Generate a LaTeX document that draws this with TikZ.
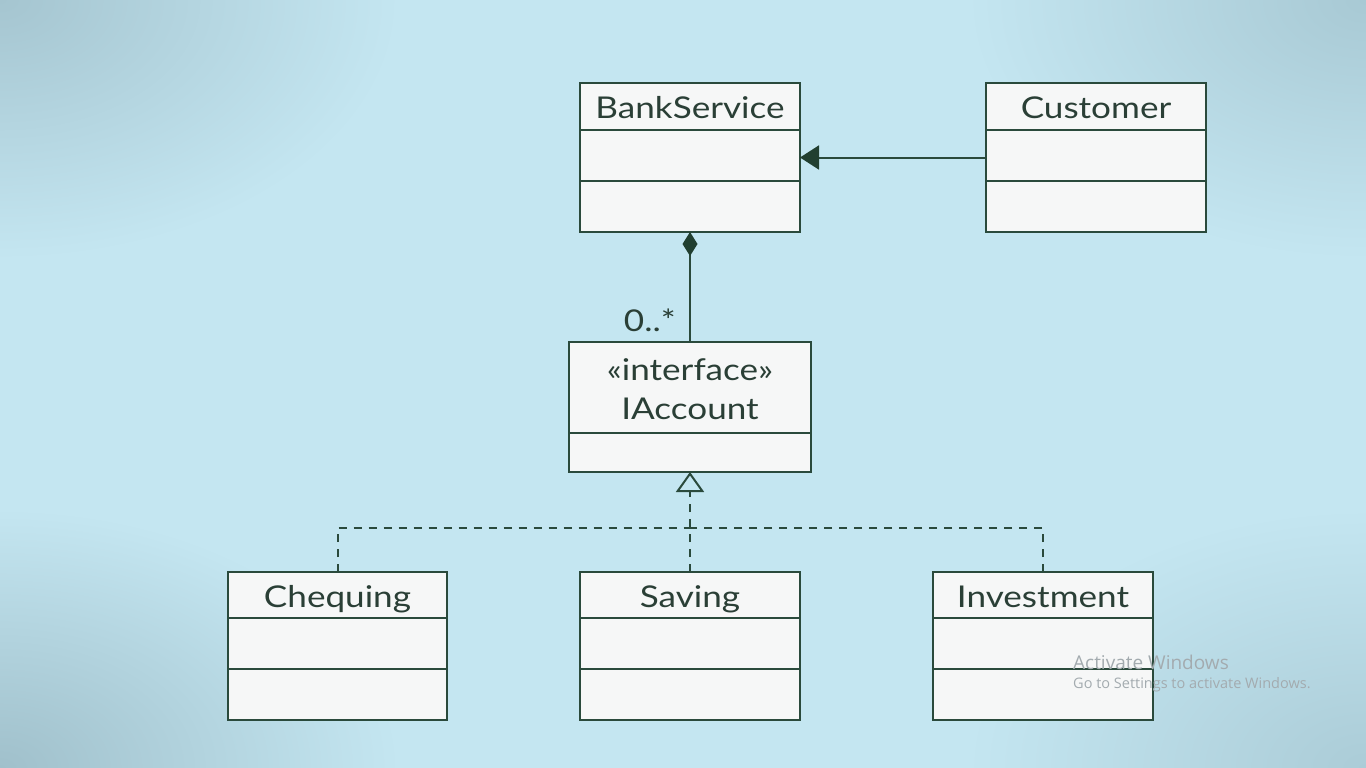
\documentclass[tikz,border=0pt]{standalone}
\usepackage{fontspec}
\setmainfont{Lato}[FakeStretch=1.17]
\newfontfamily\wmfont{Open Sans}
\usetikzlibrary{arrows.meta}
\definecolor{bgin}{HTML}{C4E6F1}
\definecolor{cTL}{HTML}{A5C5D0}
\definecolor{cTR}{HTML}{A8C9D4}
\definecolor{cBL}{HTML}{A0C0CB}
\definecolor{cBR}{HTML}{ABCCD7}
\definecolor{ink}{HTML}{2A4A3C}
\definecolor{tipink}{HTML}{213F30}
\definecolor{txt}{HTML}{2A3F36}
\definecolor{boxfill}{HTML}{F6F7F7}
\definecolor{wm}{HTML}{A3ABAF}
\tikzset{
  umlbox/.style={draw=ink, line width=2pt, fill=boxfill, inner sep=0pt, outer sep=0pt},
  divider/.style={draw=ink, line width=2pt},
  title/.style={text=txt, font=\fontsize{30}{34}\selectfont, inner sep=0pt, anchor=base},
  conn/.style={draw=ink, line width=2pt},
  realize/.style={draw=ink, line width=2pt, dash pattern=on 8pt off 7pt},
  wmbig/.style={text=wm, font=\wmfont\fontsize{19}{21}\selectfont, anchor=west, inner sep=0pt},
  wmsmall/.style={text=wm, font=\wmfont\fontsize{14.5}{16}\selectfont, anchor=west, inner sep=0pt}
}
\begin{document}
\begin{tikzpicture}[x=1pt, y=-1pt]
\useasboundingbox (0,0) rectangle (1366,768);
\begin{scope}
\clip (0,0) rectangle (1366,768);
\fill[bgin] (0,0) rectangle (1366,768);
\shade[inner color=cTL, outer color=bgin] (-400,-260) rectangle (400,260);
\shade[inner color=cTR, outer color=bgin] (966,-260) rectangle (1766,260);
\shade[inner color=cBL, outer color=bgin] (-400,508) rectangle (400,1028);
\shade[inner color=cBR, outer color=bgin] (966,508) rectangle (1766,1028);
\end{scope}

% class boxes
\node[umlbox, minimum width=220, minimum height=149] (bank) at (690,157.5) {};
\node[umlbox, minimum width=220, minimum height=149] (cust) at (1096,157.5) {};
\node[umlbox, minimum width=242, minimum height=130] (iacc) at (690,407) {};
\node[umlbox, minimum width=219, minimum height=148] (cheq) at (337.5,646) {};
\node[umlbox, minimum width=220, minimum height=148] (sav) at (690,646) {};
\node[umlbox, minimum width=220, minimum height=148] (inv) at (1043,646) {};

% dividers
\foreach \b in {bank,cust} {
  \draw[divider] (\b.west |- 0,130) -- (\b.east |- 0,130);
  \draw[divider] (\b.west |- 0,181) -- (\b.east |- 0,181);
}
\draw[divider] (iacc.west |- 0,433) -- (iacc.east |- 0,433);
\foreach \b in {cheq,sav,inv} {
  \draw[divider] (\b.west |- 0,618) -- (\b.east |- 0,618);
  \draw[divider] (\b.west |- 0,669) -- (\b.east |- 0,669);
}

% titles
\node[title] (tbank) at (690,118) {BankService};
\node[title] (tcust) at (1096,118) {Customer};
\node[title] (tiface) at (690,380) {«interface»};
\node[title] (tiacc) at (690,419) {IAccount};
\node[title] (tcheq) at (337.5,607) {Chequing};
\node[title] (tsav) at (690,607) {Saving};
\node[title] (tinv) at (1043,607) {Investment};

% association Customer -> BankService
\draw[conn, -{Triangle[length=19pt,width=24pt,color=tipink]}] (cust.west) -- (bank.east);

% composition BankService <>- IAccount
\draw[conn, {Diamond[length=24pt,width=15pt,color=tipink]}-] (bank.south) -- (iacc.north);
\node[title, anchor=base east] (mult) at (676,331) {0..*};

% realization
\coordinate (junc) at (690,528);
\draw[realize] (cheq.north) |- (junc);
\draw[realize] (inv.north) |- (junc);
\draw[realize, -{Triangle[open, length=20pt, width=28pt, line width=2pt]}] (sav.north) -- (iacc.south);

% watermark
\node[wmbig] (wm1) at (1073,662) {Activate Windows};
\node[wmsmall] (wm2) at (1073,685) {Go to Settings to activate Windows.};
\end{tikzpicture}
\end{document}
